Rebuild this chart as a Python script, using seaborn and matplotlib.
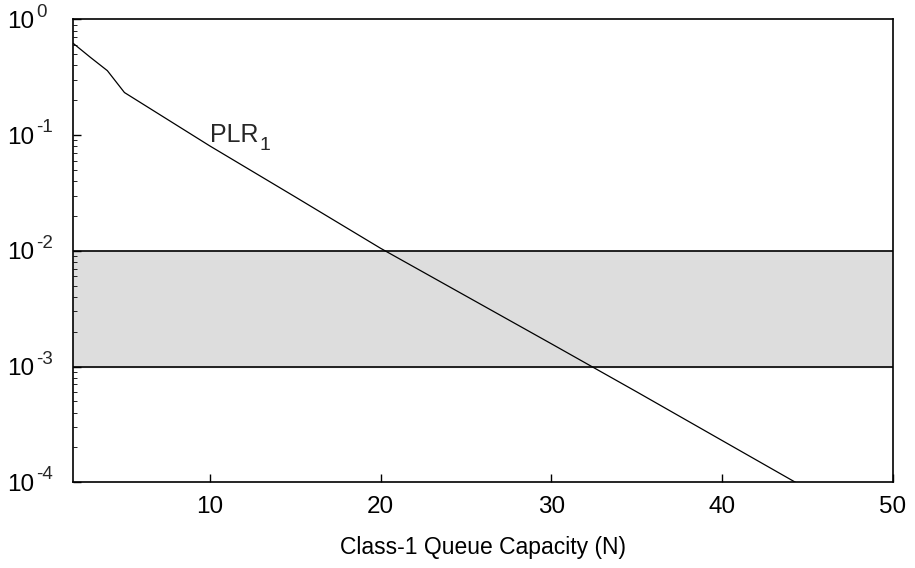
import numpy as np
import pandas as pd
import matplotlib
matplotlib.use('Agg')
import matplotlib.pyplot as plt
import seaborn as sns

# queue capacity and class-1 packet loss ratio
capacity = [2, 3, 4, 5, 10, 15, 20, 25, 30, 35, 40, 45]
plr1 = [0.62, 0.47, 0.36, 0.233, 0.0805, 0.0292, 0.0105, 0.00406,
        0.00157, 0.000603, 0.000229, 0.000087]

band_low = 1e-3
band_high = 1e-2

y_ticks = [1e-4, 1e-3, 1e-2, 1e-1, 1e0]
y_exps = ['-4', '-3', '-2', '-1', '0']
x_ticks = [10, 20, 30, 40, 50]

df = pd.DataFrame({'N': capacity, 'PLR1': plr1})

sns.set_style('ticks')
plt.rcParams['font.family'] = ['Liberation Sans', 'DejaVu Sans']

fig, ax = plt.subplots(figsize=(9.15, 5.68), dpi=100)
fig.subplots_adjust(left=0.08, right=0.976, top=0.966, bottom=0.151)

ax.axhspan(band_low, band_high, color='#dddddd', zorder=0)
ax.axhline(band_low, color='black', lw=1.2, zorder=1)
ax.axhline(band_high, color='black', lw=1.2, zorder=1)

sns.lineplot(data=df, x='N', y='PLR1', color='black', lw=0.9, ax=ax, zorder=2)

ax.set_yscale('log')
ax.set_xlim(2, 50)
ax.set_ylim(1e-4, 1)
ax.set_xticks(x_ticks)
ax.set_xticklabels([str(v) for v in x_ticks])
ax.set_yticks(y_ticks)
ax.set_yticklabels(['10'] * len(y_ticks))
ax.set_xlabel('Class-1 Queue Capacity (N)', fontsize=16.5, labelpad=13, color='black')
ax.set_ylabel('')

# exponents drawn as separate, larger superscripts
for v, e in zip(y_ticks, y_exps):
    ax.annotate(e, xy=(0, v), xycoords=('axes fraction', 'data'),
                xytext=(-26.5, 2), textcoords='offset points',
                fontsize=13.5, ha='left', va='baseline', annotation_clip=False)

# curve label with a lowered subscript
lbl = ax.text(10, 0.087, 'PLR', fontsize=18, ha='left', va='baseline')
ax.annotate('1', xy=(1, 0), xycoords=lbl, xytext=(0.5, -5),
            textcoords='offset points', fontsize=14, ha='left', va='bottom')

ax.tick_params(axis='both', which='major', direction='in', labelsize=17.5,
               length=6, width=1, top=False, right=False, color='black',
               labelcolor='black')
ax.tick_params(axis='y', which='minor', direction='in', length=3, right=False,
               color='black')
ax.tick_params(axis='x', pad=10)
ax.tick_params(axis='y', pad=28)
for s in ax.spines.values():
    s.set_linewidth(1.2)
    s.set_color('black')
    s.set_visible(True)

plt.savefig('out.png', dpi=100)
